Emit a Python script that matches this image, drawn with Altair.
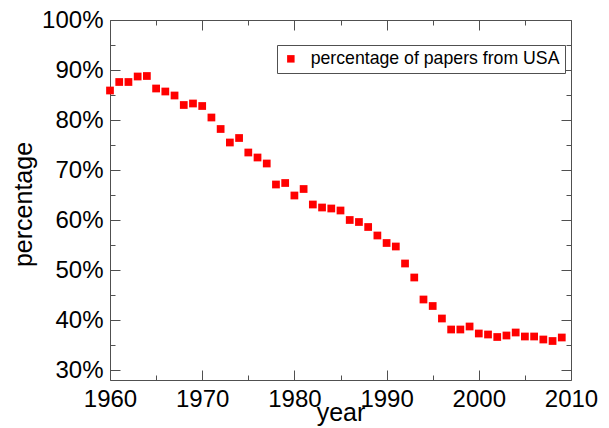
import altair as alt
import pandas as pd

# ---- data ----
years = list(range(1960, 2010))
pct = [85.9, 87.6, 87.6, 88.7, 88.8, 86.3, 85.7, 84.9, 83.0, 83.3,
       82.8, 80.5, 78.2, 75.5, 76.4, 73.5, 72.5, 71.3, 67.1, 67.4,
       64.9, 66.2, 63.1, 62.5, 62.3, 61.9, 60.0, 59.6, 58.6, 56.9,
       55.4, 54.7, 51.3, 48.5, 44.1, 42.8, 40.3, 38.1, 38.1, 38.7,
       37.3, 37.1, 36.6, 36.9, 37.5, 36.7, 36.7, 36.1, 35.8, 36.5]
series_name = "percentage of papers from USA"

x_major = [1960, 1970, 1980, 1990, 2000, 2010]
x_minor = [1965, 1975, 1985, 1995, 2005]
y_major = [30, 40, 50, 60, 70, 80, 90, 100]
y_minor = [35, 45, 55, 65, 75, 85, 95]
x_domain = [1960, 2010]
y_domain = [28, 100]

df = pd.DataFrame({"year": years, "pct": pct, "series": [series_name] * len(years)})

FONT = "Liberation Sans"
FRAME = "#505050"
W, H = 461, 360

xs = alt.Scale(domain=x_domain, nice=False, zero=False)
ys = alt.Scale(domain=y_domain, nice=False, zero=False)

base = alt.Chart(df)

points = base.mark_square(size=60, opacity=1, filled=True).encode(
    x=alt.X("year:Q", scale=xs, title="year",
            axis=alt.Axis(orient="bottom", values=x_major, format="d", ticks=False,
                          labelFlush=False, labelOverlap=False, labelBound=False,
                          labelPadding=7, labelFontSize=24, labelFont=FONT, labelColor="black",
                          domainColor=FRAME, domainWidth=1, grid=False,
                          titleFontSize=25, titleFont=FONT, titleFontWeight="normal",
                          titleColor="black", titleBaseline="alphabetic", titleY=40)),
    y=alt.Y("pct:Q", scale=ys, title="percentage",
            axis=alt.Axis(orient="left", values=y_major, labelExpr="datum.value + '%'",
                          labelFlush=False, labelOverlap=False, labelBound=False,
                          ticks=False, labelPadding=7, labelFontSize=24, labelFont=FONT,
                          labelColor="black", domainColor=FRAME, domainWidth=1, grid=False,
                          titleFontSize=25, titleFont=FONT, titleFontWeight="normal",
                          titleColor="black", titleBaseline="alphabetic", titleAngle=-90,
                          titleX=-78.5, titleY=H / 2 + 4)),
    color=alt.Color("series:N", scale=alt.Scale(range=["#ff0000"]),
                    legend=alt.Legend(orient="none", legendX=167, legendY=25, title=None,
                                      padding=5, strokeColor=FRAME, fillColor="white",
                                      cornerRadius=0, labelLimit=0,
                                      labelFontSize=17.7, labelFont=FONT, labelColor="black",
                                      symbolSize=56, symbolType="square", symbolOffset=0,
                                      labelOffset=11, symbolStrokeWidth=0, symbolOpacity=1)),
)


def tick_layer(xorient, xvals, yorient, yvals, size, domain):
    return base.mark_square(opacity=0).encode(
        x=alt.X("year:Q", scale=xs, title=None,
                axis=alt.Axis(orient=xorient, offset=-H, values=xvals, tickSize=size,
                              labels=False, domain=domain, domainColor=FRAME, domainWidth=1,
                              tickColor=FRAME, tickWidth=1, grid=False)),
        y=alt.Y("pct:Q", scale=ys, title=None,
                axis=alt.Axis(orient=yorient, offset=-W, values=yvals, tickSize=size,
                              labels=False, domain=domain, domainColor=FRAME, domainWidth=1,
                              tickColor=FRAME, tickWidth=1, grid=False)),
    )


layers = [
    points,
    tick_layer("top", x_major, "right", y_major, 10, False),
    tick_layer("top", x_minor, "right", y_minor, 5, False),
    tick_layer("bottom", x_major, "left", y_major, 10, True),
    tick_layer("bottom", x_minor, "left", y_minor, 5, False),
]

chart = alt.layer(*layers).resolve_axis(x="independent", y="independent").properties(
    width=W, height=H,
    autosize=alt.AutoSizeParams(type="none"),
    padding={"left": 102, "top": 12, "right": 30, "bottom": 48},
).configure_view(stroke=None)

chart.save("out.html", embed_options={"renderer": "svg", "actions": False})
